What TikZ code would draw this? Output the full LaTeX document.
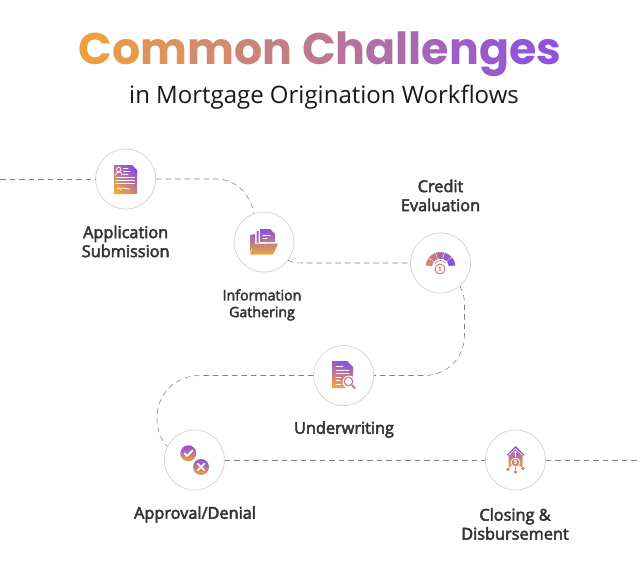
\documentclass[tikz,border=0pt]{standalone}
\usepackage{fontspec}
\setmainfont{Open Sans}
\newfontfamily\titlefont{Poppins}[BoldFont={Poppins Bold}]
\newfontfamily\labelfont{Open Sans}[FakeBold=3]
\definecolor{pur}{HTML}{8A4FE3}
\definecolor{org}{HTML}{EFA23C}
\definecolor{lab}{HTML}{333338}
\newcommand{\tl}[2]{\textcolor{pur!#1!org}{#2}}
\tikzset{
  stepcircle/.style={circle,draw=black!18,line width=0.7pt,fill=white,minimum size=60pt,inner sep=0pt},
  conn/.style={draw=black!50,line width=0.55pt,dash pattern=on 5.5pt off 4pt},
  steplabel/.style={text=lab,font=\labelfont\fontsize{16.3}{19}\selectfont,align=center,inner sep=0pt},
  grad/.style={top color=pur,bottom color=org,shading angle=#1},
  grad/.default=0,
  cut/.style={draw=white,line width=0.8pt,line cap=round,fill=none}
}
\begin{document}
\begin{tikzpicture}[x=1pt,y=-1pt]
\useasboundingbox[fill=white] (0,0) rectangle (640,586);
% title
\node[inner sep=0pt] (title) at (320,54) {\titlefont\bfseries\fontsize{44.3}{50}\selectfont
\tl{3}{C}\tl{9}{o}\tl{18}{m}\tl{28}{m}\tl{36}{o}\tl{42}{n} \tl{50}{C}\tl{57}{h}\tl{63}{a}\tl{68}{l}\tl{70}{l}\tl{75}{e}\tl{81}{n}\tl{87}{g}\tl{93}{e}\tl{97}{s}};
\node[inner sep=0pt,text=black!90] (subtitle) at (324,97) {\fontsize{24}{28}\selectfont in Mortgage Origination Workflows};
% steps
\node[stepcircle] (app) at (125.7,179) {};
\node[stepcircle] (info) at (264,242) {};
\node[stepcircle] (credit) at (440.5,263) {};
\node[stepcircle] (under) at (343.7,375.5) {};
\node[stepcircle] (appr) at (194.4,460) {};
\node[stepcircle] (close) at (515.5,460) {};
\coordinate (inL) at (0,179);
\coordinate (outR) at (640,460);
% connectors
\draw[conn] (inL) -- (app.west);
\draw[conn] (app.east) -- (218,179) .. controls (236,180) and (250,194) .. (info.109);
\draw[conn] (info.-37) .. controls (292,262.5) and (296,263) .. (302,263) -- (credit.west);
\draw[conn] (credit.-50) .. controls (463,292) and (464.5,297) .. (464.5,305) -- (464.5,335) .. controls (464.5,358) and (447,375.5) .. (424,375.5) -- (under.east);
\draw[conn] (under.west) -- (200,375.5) .. controls (175,375.5) and (157,394) .. (157,418) .. controls (157,430) and (161,440) .. (appr.153);
\draw[conn] (appr.east) -- (close.west);
\draw[conn] (close.east) -- (outR);
% icon: application
\shade[grad=-40] (114,165) -- (132,165) -- (137,170) -- (137,194) -- (114,194) -- cycle;
\fill[white] (132.6,165) -- (137,165) -- (137,169.4) -- cycle;
\draw[cut] (118.8,169.5) circle[radius=2.2];
\draw[cut] (115.8,175) .. controls (115.8,171) and (122,171) .. (122,175);
\draw[cut] (123.5,168) -- (128,168) (123.5,171) -- (130,171) (123.5,174) -- (128,174);
\draw[cut] (116,177.5) -- (134.5,177.5) (116,180.5) -- (134.5,180.5) (116,183) -- (134.5,183);
\draw[cut] (117,189) .. controls (119,185) and (120,192) .. (122,188) -- (130,189);
% icon: information
\shade[grad=0] (250,235) -- (255,234) -- (255,244) -- (250,252) -- cycle
 (256.5,231) -- (258.5,231) -- (258.5,243) -- (256.5,243) -- cycle
 (260,229) -- (270,229) -- (275,234) -- (275,242) -- (260,242) -- cycle
 (254.5,244) -- (278,243.5) -- (273,254.5) -- (250,254.5) -- cycle;
\draw[cut] (263,235) -- (270,235) (263,238.5) -- (267,238.5);
\fill[white] (270.5,229) -- (275,229) -- (275,233.5) -- cycle;
% icon: credit
\begin{scope}[shift={(440.5,267)}]
\foreach \a/\b/\p in {186/217/8,220/249/30,252/284/55,287/317/78,320/354/100}
  \fill[pur!\p!org!75!pur] (\a:15) arc[start angle=\a,end angle=\b,radius=15] -- (\b:8.5) arc[start angle=\b,end angle=\a,radius=8.5] -- cycle;
\draw[pur!40!org,line width=0.6pt] (210:6.5) arc[start angle=210,end angle=320,radius=6.5];
\draw[pur!40!org,line width=1pt] (-0.5,2) circle[radius=5];
\node[inner sep=0pt,text=pur!40!org,font=\fontsize{6}{6}\selectfont\bfseries] (creditsign) at (-0.5,2) {\$};
\end{scope}
% icon: underwriting
\shade[grad=-12] (332,361) -- (347,361) -- (353,367) -- (353,388) -- (332,388) -- cycle;
\fill[white] (347.6,361) -- (353,361) -- (353,366.4) -- cycle;
\draw[cut] (336,366) -- (343,366) (336,370) -- (349,370) (336,373.5) -- (349,373.5) (336,377) -- (341,377) (336,380.5) -- (340,380.5) (336,384) -- (341,384);
\fill[white] (349,382) circle[radius=6.5];
\draw[pur!45!org,line width=1.2pt] (348.5,381.5) circle[radius=4.3];
\draw[pur!45!org,line width=1.8pt,line cap=round] (351.8,385) -- (355,388.2);
% icon: approval / denial
\shade[grad=0] (188.3,453.3) circle[radius=8];
\shade[grad=-10] (201,467) circle[radius=8];
\draw[white,line width=1.7pt,line cap=round,line join=round] (184.5,453.5) -- (187.2,456) -- (192.5,450.5);
\draw[white,line width=1.7pt,line cap=round] (197.7,463.7) -- (204.3,470.3) (204.3,463.7) -- (197.7,470.3);
% icon: closing
\shade[grad=0] (515.5,446) -- (524.5,455) -- (522.5,456) -- (522.5,466) -- (508.5,466) -- (508.5,456) -- (506.5,455) -- cycle;
\draw[white,line width=0.5pt] (508.5,455.5) -- (515.5,448.8) -- (522.5,455.5);
\fill[white] (515.5,452) circle[radius=1.4];
\draw[white,line width=0.9pt] (515.5,452) -- (515.5,457);
\draw[white,line width=0.8pt,fill=pur!30!org] (515.5,462.5) circle[radius=4.4];
\node[inner sep=0pt,text=white,font=\fontsize{6}{6}\selectfont\bfseries] (closesign) at (515.5,462.5) {\$};
\draw[org!75!pur,line width=0.8pt] (511,465) -- (508,469) (515.5,467) -- (515.5,471) (520,465) -- (523,468);
\fill[org!75!pur] (508,469.5) circle[radius=1.9] (515.5,472) circle[radius=1.9] (523,468.5) circle[radius=1.9];
% labels
\node[steplabel] (applab) at (125.7,241.5) {Application\\Submission};
\node[steplabel,font=\labelfont\fontsize{14.2}{16.8}\selectfont] (infolab) at (262,305) {Information\\Gathering};
\node[steplabel] (creditlab) at (440.5,195.5) {Credit\\Evaluation};
\node[steplabel] (underlab) at (344,429.5) {Underwriting};
\node[steplabel] (apprlab) at (195,514.5) {Approval/Denial};
\node[steplabel] (closelab) at (515,524) {Closing \&\\Disbursement};
\end{tikzpicture}
\end{document}
